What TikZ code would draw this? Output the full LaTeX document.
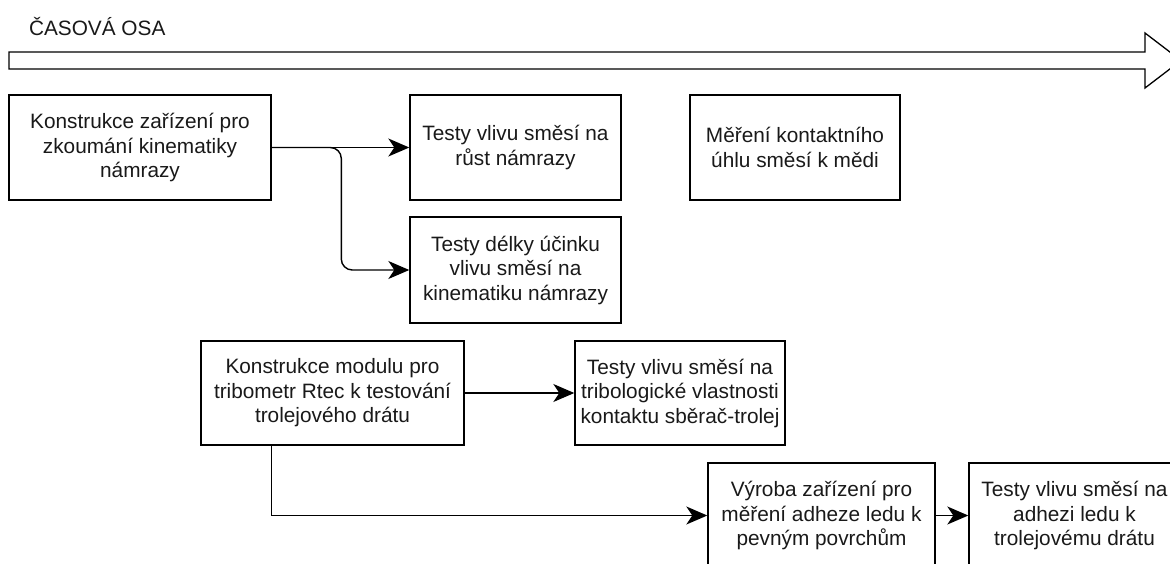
\documentclass[tikz,border=0pt]{standalone}
\usepackage{fontspec}
\setmainfont{Liberation Sans}
\usetikzlibrary{arrows.meta}

\begin{document}
\begin{tikzpicture}[x=1pt,y=-1pt,
    line width=1.4pt,
    every node/.style={font=\fontsize{20.8}{24.5}\selectfont,text=black!90},
    box/.style={draw,rectangle,align=center,inner sep=2pt},
    arr/.style={-{Stealth[length=21pt,width=18pt,inset=6pt]}}]
    \useasboundingbox (0,0) rectangle (1170,563);
    \clip (0,0) rectangle (1170,563);

    % Time axis
    \node[anchor=west] (osa) at (25,27) {ČASOVÁ OSA};
    \draw[line width=1.3pt] (9,52) -- (1145,52) -- (1145,33) -- (1181,60.5)
        -- (1145,88) -- (1145,69) -- (9,69) -- cycle;

    % Icing branch
    \node[box,minimum width=262pt,minimum height=105pt] (kin) at (140,147.5)
        {Konstrukce zařízení pro\\zkoumání kinematiky\\námrazy};
    \node[box,minimum width=211pt,minimum height=105pt] (rust) at (515.5,147.5)
        {Testy vlivu směsí na\\růst námrazy};
    \node[box,minimum width=210pt,minimum height=105pt] (uhel) at (795,147.5)
        {Měření kontaktního\\úhlu směsí k mědi};
    \node[box,minimum width=211pt,minimum height=106pt] (delka) at (515.5,270)
        {Testy délky účinku\\vlivu směsí na\\kinematiku námrazy};

    % Tribometer branch
    \node[box,minimum width=263pt,minimum height=104pt] (modul) at (332.5,393)
        {Konstrukce modulu pro\\tribometr Rtec k testování\\trolejového drátu};
    \node[box,minimum width=210pt,minimum height=104pt] (tribo) at (680,393)
        {Testy vlivu směsí na\\tribologické vlastnosti\\kontaktu sběrač-trolej};

    % Adhesion branch
    \node[box,minimum width=227pt,minimum height=105pt] (vyroba) at (821.5,515.5)
        {Výroba zařízení pro\\měření adheze ledu k\\pevným povrchům};
    \node[box,minimum width=211pt,minimum height=105pt] (adheze) at (1074.5,515.5)
        {Testy vlivu směsí na\\adhezi ledu k\\trolejovému drátu};

    % Connectors
    \draw[arr] (kin.east) -- (rust.west);
    \draw[arr,rounded corners=11pt] (kin.east) -| ([xshift=-68pt]delka.west) -- (delka.west);
    \draw[arr] (modul.east) -- (tribo.west);
    \draw[arr] (modul.south -| kin.east) |- (vyroba.west);
    \draw[arr] (vyroba.east) -- (adheze.west);
\end{tikzpicture}
\end{document}
